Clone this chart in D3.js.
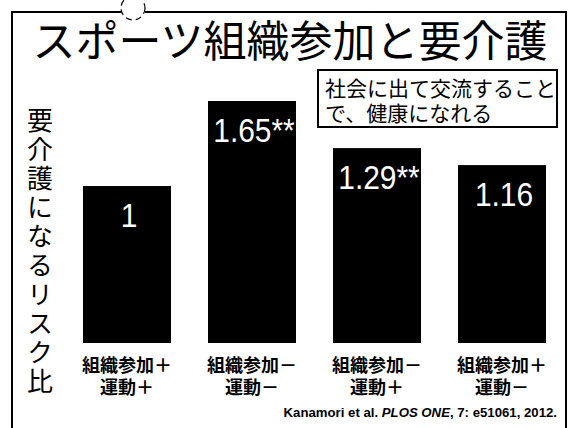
<!DOCTYPE html>
<html>
<head>
<meta charset="utf-8">
<script src="https://cdn.jsdelivr.net/npm/d3@7"></script>
<style>
  html, body { margin: 0; padding: 0; background: #fff; }
  svg { display: block; }
</style>
</head>
<body>
<svg id="chart" width="573" height="428"></svg>
<script>
// Chart content
const title = "スポーツ組織参加と要介護";
const yLabel = "要介護になるリスク比";
const groupLabels = ["組織参加＋", "組織参加－", "組織参加－", "組織参加＋"];
const exerciseLabels = ["運動＋", "運動－", "運動＋", "運動－"];
const values = [1, 1.65, 1.29, 1.16];
const valueLabels = ["1", "1.65**", "1.29**", "1.16"];
const noteLines = ["社会に出て交流すること", "で、健康になれる"];
const citation = { authors: "Kanamori et al. ", journal: "PLOS ONE", rest: ", 7: e51061, 2012." };

const categories = groupLabels.map((g, i) => g + "|" + exerciseLabels[i]);

const W = 573, H = 428;
const svg = d3.select("#chart");
const jp = "'Noto Sans CJK JP', 'Noto Sans', sans-serif";

// Scales
const x = d3.scaleBand()
  .domain(categories)
  .range([64.5, 564.5])
  .paddingInner(0.296)
  .paddingOuter(0.148);

const y = d3.scaleLinear()
  .domain([-0.2, 1.65])
  .range([343, 101]);

// Outer frame (open at the bottom), with a small dashed ring on the top edge
const frame = svg.append("g").attr("fill", "none").attr("stroke", "#000").attr("stroke-width", 2);
frame.append("path").attr("d", `M12,${H} L12,12 L121,12`);
frame.append("path").attr("d", `M145,12 L566,12 L566,${H}`);
frame.append("circle")
  .attr("cx", 133).attr("cy", 8).attr("r", 12)
  .attr("stroke-width", 1.2)
  .attr("stroke-dasharray", "6,4");

// Title
svg.append("text")
  .attr("x", 290).attr("y", 57)
  .attr("text-anchor", "middle")
  .attr("font-family", jp)
  .attr("font-size", 43)
  .attr("fill", "#000")
  .text(title);

// Note box
svg.append("rect")
  .attr("x", 318).attr("y", 70).attr("width", 239).attr("height", 57)
  .attr("fill", "#fff").attr("stroke", "#000").attr("stroke-width", 2);
const note = svg.append("text")
  .attr("font-family", jp)
  .attr("font-size", 21)
  .attr("fill", "#000");
note.selectAll("tspan")
  .data(noteLines)
  .join("tspan")
  .attr("x", 325)
  .attr("y", (d, i) => 96 + i * 25)
  .text(d => d);

// Vertical y-axis label
svg.append("text")
  .attr("x", 40)
  .attr("y", 107)
  .attr("font-family", jp)
  .attr("font-size", 26)
  .attr("letter-spacing", 3)
  .attr("fill", "#000")
  .style("writing-mode", "vertical-rl")
  .style("text-orientation", "upright")
  .text(yLabel);

// Bars
svg.append("g").selectAll("rect")
  .data(values)
  .join("rect")
  .attr("x", (d, i) => x(categories[i]))
  .attr("width", x.bandwidth())
  .attr("y", d => y(d))
  .attr("height", d => y(y.domain()[0]) - y(d))
  .attr("fill", "#000");

// Value labels inside bars (horizontally condensed)
svg.append("g").selectAll("text")
  .data(values)
  .join("text")
  .attr("transform", (d, i) =>
    `translate(${x(categories[i]) + x.bandwidth() / 2 + 2},${y(d) + 41}) scale(0.88,1)`)
  .attr("text-anchor", "middle")
  .attr("font-family", "'Liberation Sans', Arial, sans-serif")
  .attr("font-size", 34)
  .attr("fill", "#fff")
  .text((d, i) => valueLabels[i]);

// Category axis (two-line labels)
const xAxis = svg.append("g")
  .attr("transform", `translate(0,${y(y.domain()[0])})`)
  .call(d3.axisBottom(x).tickSize(0).tickFormat(""));
xAxis.select(".domain").remove();
xAxis.selectAll(".tick text").remove();
xAxis.selectAll(".tick").append("text")
  .attr("text-anchor", "middle")
  .attr("font-family", jp)
  .attr("font-weight", "bold")
  .attr("font-size", 18)
  .attr("fill", "#000")
  .each(function (d) {
    const parts = d.split("|");
    const t = d3.select(this);
    t.append("tspan").attr("x", 0).attr("y", 29).text(parts[0]);
    t.append("tspan").attr("x", 0).attr("y", 51).text(parts[1]);
  });

// Citation
const cite = svg.append("text")
  .attr("x", 557).attr("y", 417)
  .attr("text-anchor", "end")
  .attr("font-family", "'Liberation Sans', Arial, sans-serif")
  .attr("font-weight", "bold")
  .attr("font-size", 13.2)
  .attr("fill", "#000");
cite.append("tspan").text(citation.authors);
cite.append("tspan").attr("font-style", "italic").text(citation.journal);
cite.append("tspan").text(citation.rest);
</script>
</body>
</html>
